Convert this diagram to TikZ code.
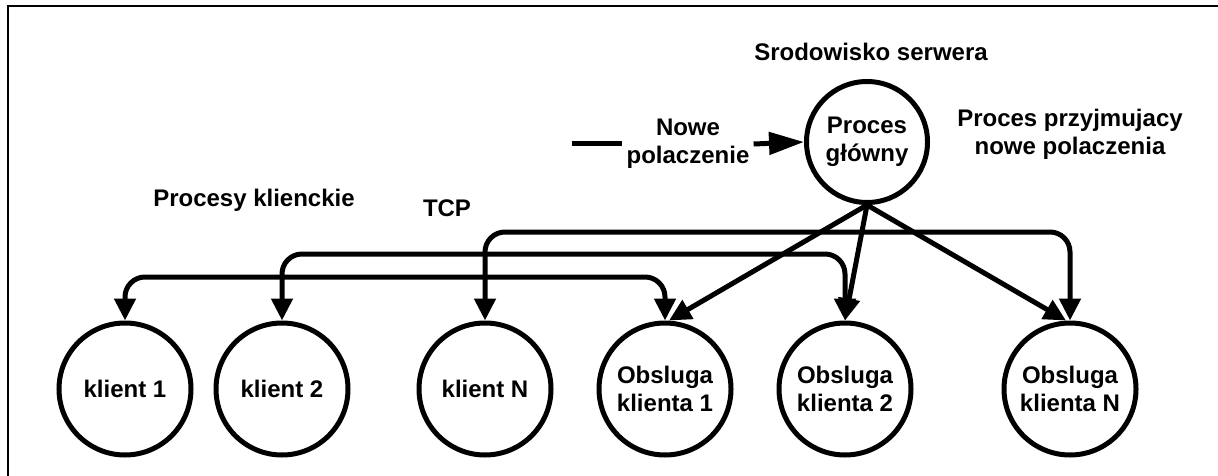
\documentclass[tikz,border=0pt]{standalone}
\usepackage{fontspec}
\setmainfont{Liberation Sans}
\usetikzlibrary{arrows.meta}
\begin{document}
\begin{tikzpicture}[x=1pt,y=-1pt,
  txt/.style={font=\bfseries\fontsize{24}{28}\selectfont},
  proc/.style={txt,circle,draw,line width=5pt,minimum size=132pt,inner sep=0pt,align=center},
  lbl/.style={txt,align=center,inner sep=4pt},
  tipa/.tip={Triangle[length=22pt,width=21pt]},
  conn/.style={line width=5pt,-tipa},
  both/.style={line width=5pt,tipa-tipa,rounded corners=20pt}]
\useasboundingbox (0,0) rectangle (1218,476);
% frame
\draw[line width=2pt] (8,476) -- (8,6) -- (1218,6);
% main process
\node[proc,minimum size=121pt] (pg) at (867,142) {Proces\\główny};
% labels
\node[lbl] (srod) at (871,52) {Srodowisko serwera};
\node[lbl] (nowe) at (688,144) {Nowe\\polaczenie};
\node[lbl] (przyj) at (1070,134) {Proces przyjmujacy\\nowe polaczenia};
\node[lbl] (prockl) at (254,200) {Procesy klienckie};
\node[lbl] (tcp) at (447,208) {TCP};
% client / handler circles
\node[proc] (k1) at (125,389) {klient 1};
\node[proc] (k2) at (282,389) {klient 2};
\node[proc] (kN) at (485,389) {klient N};
\node[proc] (o1) at (665,389) {Obsluga\\klienta 1};
\node[proc] (o2) at (845,389) {Obsluga\\klienta 2};
\node[proc] (oN) at (1070,389) {Obsluga\\klienta N};
% level coordinates
\coordinate (l1) at (0,277);
\coordinate (l2) at (0,254);
\coordinate (l3) at (0,232);
\coordinate (src) at (572,144);
% incoming connection
\draw[line width=5pt] (src) -- (nowe.west);
\draw[line width=5pt,-{Triangle[length=35pt,width=22pt]}] (nowe.east) -- (pg.west);
% TCP links
\draw[both] (k1.north) -- (k1.north |- l1) -- (o1.north |- l1) -- (o1.north);
\draw[both] (k2.north) -- (k2.north |- l2) -- (o2.north |- l2) -- (o2.north);
\draw[both] (kN.north) -- (kN.north |- l3) -- (oN.north |- l3) -- (oN.north);
% spawning handlers
\draw[conn] (pg.south) -- ([xshift=4pt]o1.north);
\draw[conn] (pg.south) -- (o2.north);
\draw[conn] (pg.south) -- ([xshift=-4pt]oN.north);
\end{tikzpicture}
\end{document}
